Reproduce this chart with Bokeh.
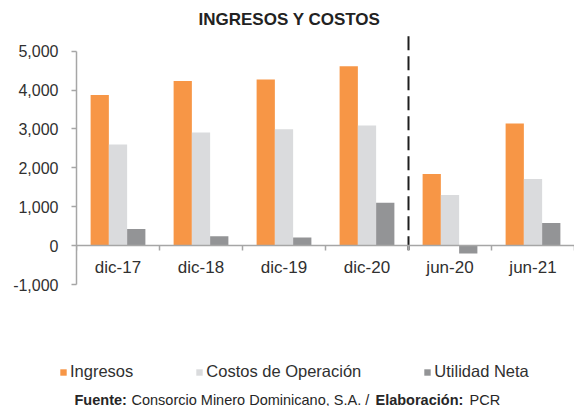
from bokeh.plotting import figure
from bokeh.layouts import column
from bokeh.models import (Range1d, FixedTicker, NumeralTickFormatter, ColumnDataSource,
                          Legend, LegendItem, Label)
from bokeh.transform import dodge
from bokeh.embed import file_html
from bokeh.resources import INLINE

# ---- data ----
categories = ["dic-17", "dic-18", "dic-19", "dic-20", "jun-20", "jun-21"]
ingresos = [3870, 4230, 4270, 4610, 1840, 3140]
costos = [2600, 2910, 2990, 3090, 1300, 1710]
utilidad = [430, 240, 210, 1100, -200, 580]
y_ticks = [-1000, 0, 1000, 2000, 3000, 4000, 5000]
series_names = ["Ingresos", "Costos de Operación", "Utilidad Neta"]
title_text = "INGRESOS Y COSTOS"
divider_before = "jun-20"
divider_span = (-120, 5480)

FONT = "Liberation Sans"
TXT = "#303030"
AXIS = "#a6a6a6"
colors = ["#F79646", "#DADBDD", "#939496"]

n = len(categories)
source = ColumnDataSource(dict(
    x=[i + 0.5 for i in range(n)],
    cat=categories, ingresos=ingresos, costos=costos, utilidad=utilidad))

# ---------------- chart ----------------
p = figure(width=574, height=350, output_backend="svg", toolbar_location=None,
           x_range=Range1d(0, n), y_range=Range1d(-1000, 5480),
           min_border_left=76, min_border_right=0, min_border_top=32,
           min_border_bottom=66, title=title_text)
p.outline_line_color = None
p.xgrid.visible = False
p.ygrid.visible = False

p.title.align = "left"
p.title.offset = 122
p.title.text_font = FONT
p.title.text_font_size = "17px"
p.title.text_font_style = "bold"
p.title.text_color = "#222222"
p.title.standoff = 8

w = 0.22
renderers = []
for field, off, col in zip(["ingresos", "costos", "utilidad"], [-w, 0, w], colors):
    r = p.vbar(x=dodge("x", off), top=field, bottom=0, width=w, source=source,
               fill_color=col, line_color=None)
    renderers.append(r)

# y axis
ya = p.yaxis[0]
ya.bounds = (y_ticks[0], y_ticks[-1])
ya.ticker = FixedTicker(ticks=y_ticks)
ya.formatter = NumeralTickFormatter(format="0,0")
ya.axis_line_color = AXIS
ya.axis_line_width = 1.5
ya.major_tick_line_color = AXIS
ya.major_tick_line_width = 1.5
ya.major_tick_out = 5
ya.major_tick_in = 0
ya.minor_tick_line_color = None
ya.major_label_text_font = FONT
ya.major_label_text_font_size = "16px"
ya.major_label_text_color = TXT
ya.major_label_standoff = 13

# x axis at y = 0
xa = p.xaxis[0]
xa.fixed_location = 0
xa.ticker = FixedTicker(ticks=[i + 0.5 for i in range(n)], minor_ticks=list(range(n + 1)))
xa.major_label_overrides = {i + 0.5: c for i, c in enumerate(categories)}
xa.axis_line_color = AXIS
xa.axis_line_width = 1.5
xa.major_tick_line_color = None
xa.minor_tick_line_color = AXIS
xa.minor_tick_line_width = 1.5
xa.minor_tick_out = 5
xa.minor_tick_in = 0
xa.major_label_text_font = FONT
xa.major_label_text_font_size = "17px"
xa.major_label_text_color = TXT
xa.major_label_standoff = 6

# dashed divider
xd = categories.index(divider_before)
p.segment(x0=[xd], y0=[divider_span[0]], x1=[xd], y1=[divider_span[1]],
          line_color="#1e1e1e", line_width=2, line_dash="14 6")

# ---------------- footer: legend + source ----------------
f = figure(width=574, height=56, output_backend="svg", toolbar_location=None,
           x_range=Range1d(0, 1), y_range=Range1d(0, 1),
           x_axis_location=None, y_axis_location=None,
           min_border_left=0, min_border_right=0, min_border_top=0, min_border_bottom=0)
f.outline_line_color = None
f.xgrid.visible = False
f.ygrid.visible = False

for plot in (p, f):
    try:
        plot.frame_align = False
    except Exception:
        pass

# swatch renderers (zero-height, never visible in the footer frame)
dummies = [f.vbar(x=[0.5], top=[0], bottom=[0], width=0.01, fill_color=c, line_color=None)
           for c in colors]
legend = Legend(items=[LegendItem(label=s, renderers=[r]) for s, r in zip(series_names, dummies)],
                orientation="horizontal", location=(59, 25),
                glyph_width=8, glyph_height=8, label_standoff=3, spacing=62,
                padding=0, margin=0, border_line_color=None, background_fill_alpha=0,
                label_text_font=FONT, label_text_font_size="16.5px", label_text_color=TXT,
                label_height=16)
f.add_layout(legend)

parts = [("Fuente:", "bold", 74), ("Consorcio Minero Dominicano, S.A. /", "normal", 131),
         ("Elaboración:", "bold", 375), ("PCR", "normal", 469)]
for t, style, xx in parts:
    f.add_layout(Label(x=xx, y=7, x_units="screen", y_units="screen", text=t,
                       text_font=FONT, text_font_size="14.5px", text_font_style=style,
                       text_color="#262626", text_baseline="alphabetic"))

open("out.html", "w").write(file_html(column(p, f), INLINE))
